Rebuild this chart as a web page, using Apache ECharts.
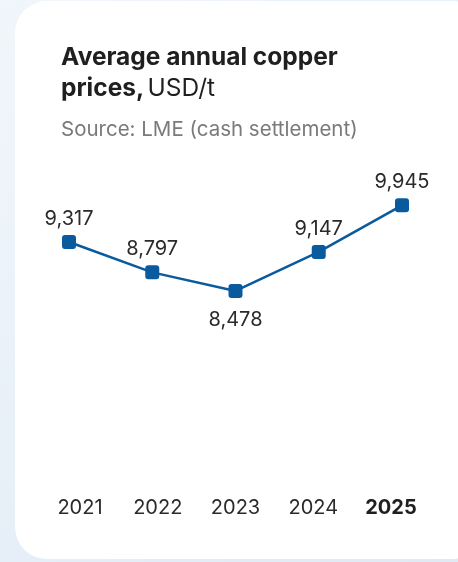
<!DOCTYPE html>
<html>
<head>
<meta charset="utf-8">
<script src="https://cdn.jsdelivr.net/npm/echarts@6/dist/echarts.min.js"></script>
<style>
  html, body { margin: 0; padding: 0; background: #eef4fa; }
  #chart { width: 458px; height: 562px; }
</style>
</head>
<body>
<div id="chart"></div>
<script>
// Average annual LME copper cash settlement prices
const years = ['2021', '2022', '2023', '2024', '2025'];
const prices = [9317, 8797, 8478, 9147, 9945];
const labelBelow = ['2023'];
const highlightYear = '2025';

const FONT = 'Inter, "Noto Sans", sans-serif';
const BLUE = '#0a5a9e';

const chart = echarts.init(document.getElementById('chart'));

chart.setOption({
  backgroundColor: {
    type: 'linear', x: 0, y: 0, x2: 1, y2: 1,
    colorStops: [
      { offset: 0, color: '#f1f6fb' },
      { offset: 1, color: '#dfeaf5' }
    ]
  },
  animation: false,
  graphic: [
    {
      type: 'rect',
      z: -10,
      shape: { x: 15, y: 1, width: 470, height: 558, r: 32 },
      style: { fill: '#ffffff' }
    },
    {
      type: 'text',
      left: 61, top: 45,
      style: {
        text: '{b|Average annual copper}\n{b|prices,} {n|USD/t}',
        rich: {
          b: { fontFamily: FONT, fontSize: 24.5, fontWeight: 'bold', fill: '#1f1f1f', lineHeight: 31 },
          n: { fontFamily: FONT, fontSize: 24.5, fontWeight: 'normal', fill: '#1f1f1f', lineHeight: 31 }
        }
      }
    },
    {
      type: 'text',
      left: 61, top: 119,
      style: {
        text: 'Source: LME (cash settlement)',
        fontFamily: FONT, fontSize: 20.5, fill: '#7a7a7a'
      }
    }
  ],
  grid: [
    { left: 69, right: 56, top: 143.7, height: 233.6 },
    { left: 80, right: 67, top: 400, height: 88 }
  ],
  xAxis: [
    {
      type: 'category', gridIndex: 0, data: years, boundaryGap: false,
      axisLine: { show: false }, axisTick: { show: false }, axisLabel: { show: false }
    },
    {
      type: 'category', gridIndex: 1, data: years, boundaryGap: false,
      axisLine: { show: false }, axisTick: { show: false },
      axisLabel: {
        margin: 10,
        formatter: v => v === highlightYear ? '{h|' + v + '}' : '{n|' + v + '}',
        rich: {
          n: { fontFamily: FONT, fontSize: 20, color: '#2a2a2a' },
          h: { fontFamily: FONT, fontSize: 20, color: '#1f1f1f', fontWeight: 'bold' }
        }
      }
    }
  ],
  yAxis: [
    { type: 'value', gridIndex: 0, min: 7000, max: 11000, show: false, splitLine: { show: false } },
    { type: 'value', gridIndex: 1, show: false, splitLine: { show: false } }
  ],
  series: [{
    type: 'line',
    xAxisIndex: 0, yAxisIndex: 0,
    data: prices.map((v, i) => ({
      value: v,
      label: { position: labelBelow.includes(years[i]) ? 'bottom' : 'top',
               distance: labelBelow.includes(years[i]) ? 12 : 6 }
    })),
    symbol: 'path://M3,0 H11 Q14,0 14,3 V11 Q14,14 11,14 H3 Q0,14 0,11 V3 Q0,0 3,0 Z',
    symbolSize: 14,
    showAllSymbol: true,
    lineStyle: { color: BLUE, width: 2.5 },
    itemStyle: { color: BLUE },
    label: {
      show: true,
      fontFamily: FONT, fontSize: 20, color: '#2a2a2a',
      formatter: p => p.value.toLocaleString('en-US')
    }
  }]
});
</script>
</body>
</html>
